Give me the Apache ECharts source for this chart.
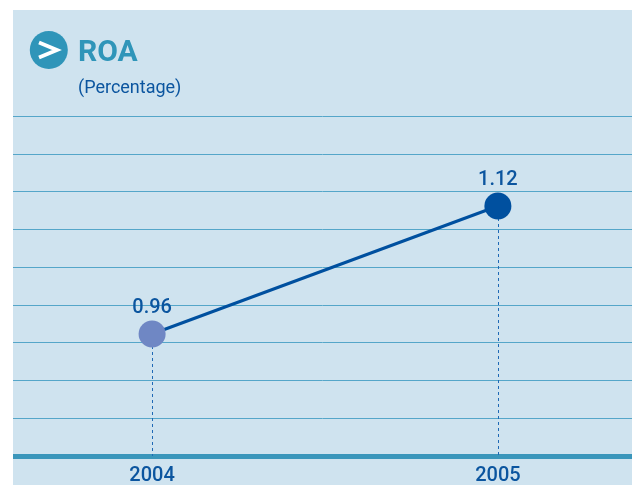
<!DOCTYPE html>
<html>
<head>
<meta charset="utf-8">
<style>html,body{margin:0;padding:0;background:#fff}#c{width:632px;height:485px}</style>
<script src="https://cdn.jsdelivr.net/npm/echarts@6/dist/echarts.min.js"></script>
</head>
<body>
<div id="c"></div>
<script>
const years = [2004, 2005];
const roa = [0.96, 1.12];
const pointColors = ['#6f87c4', '#00509f'];
const valueMin = 0.8075, valueMax = 1.2325;
const ruleCount = 9;
const font = 'Roboto, "Noto Sans", sans-serif';
const blue = '#0b559f';

const chart = echarts.init(document.getElementById('c'), null, {renderer: 'canvas'});
chart.setOption({
  animation: false,
  backgroundColor: '#ffffff',
  title: {
    text: 'ROA',
    subtext: '(Percentage)',
    left: 73, top: 33,
    itemGap: 11,
    textStyle: {fontFamily: font, fontSize: 30, fontWeight: 'bold', color: '#2f95b9'},
    subtextStyle: {fontFamily: font, fontSize: 18, color: blue, letterSpacing: 0.4}
  },
  graphic: [
    {type: 'rect', z: -10, shape: {x: 13, y: 10, width: 619, height: 475}, style: {fill: '#cfe3ef'}},
    {type: 'circle', z: 10, shape: {cx: 48.8, cy: 50, r: 19}, style: {fill: '#2f95b9'}},
    {type: 'polyline', z: 11, shape: {points: [[39, 42.5], [57, 50], [39, 57.5]]},
      style: {stroke: '#ffffff', lineWidth: 3.8, fill: null}}
  ],
  grid: {left: 13, right: 0, top: 116, bottom: 29, containLabel: false, outerBoundsMode: 'none'},
  xAxis: {
    type: 'value',
    min: 2003.5977, max: 2005.3879,
    splitLine: {show: false},
    axisLine: {show: true, onZero: false, lineStyle: {color: '#3a96bb', width: 5, cap: 'butt'}},
    axisTick: {show: false},
    axisLabel: {
      show: true, customValues: years, margin: 10,
      fontFamily: font, fontSize: 20, fontWeight: 500, color: blue, letterSpacing: 1.2,
      formatter: v => String(v)
    }
  },
  yAxis: [
    {
      type: 'value', min: 0, max: ruleCount, interval: 1,
      axisLine: {show: false}, axisTick: {show: false}, axisLabel: {show: false},
      splitLine: {show: true, lineStyle: {color: '#55a6c9', width: 1}}
    },
    {
      type: 'value', min: valueMin, max: valueMax,
      axisLine: {show: false}, axisTick: {show: false}, axisLabel: {show: false},
      splitLine: {show: false}
    }
  ],
  series: [{
    type: 'line',
    yAxisIndex: 1,
    z: 5,
    data: years.map((y, i) => ({
      value: [y, roa[i]],
      itemStyle: {color: pointColors[i], opacity: 1}
    })),
    symbol: 'circle',
    symbolSize: 27,
    lineStyle: {color: '#00509f', width: 3},
    label: {
      show: true, position: 'top', distance: 3,
      fontFamily: font, fontSize: 20, fontWeight: 500, color: blue, letterSpacing: 1.2,
      formatter: p => p.value[1].toFixed(2)
    },
    markLine: {
      silent: true, symbol: 'none', z: 3,
      label: {show: false},
      lineStyle: {color: '#1f69b5', width: 1, type: [3, 3]},
      data: years.map((y, i) => [{coord: [y, roa[i]]}, {coord: [y, valueMin]}])
    }
  }]
});
</script>
</body>
</html>
